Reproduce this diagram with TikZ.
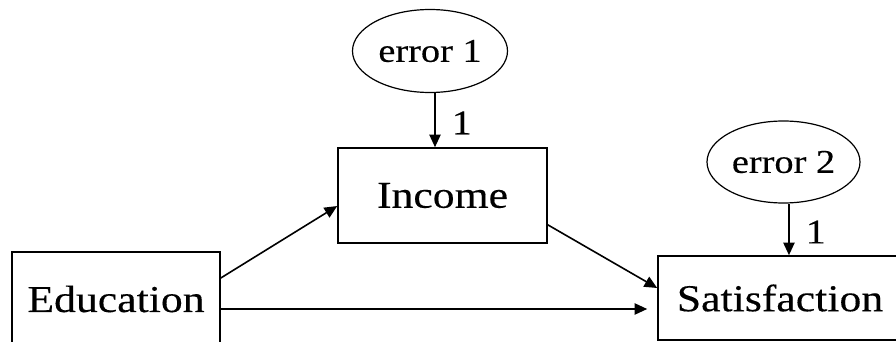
\documentclass[tikz,border=0pt]{standalone}
\usepackage{fontspec}
\setmainfont[FakeStretch=1.15,FakeBold=0.3]{Liberation Serif}
\usetikzlibrary{shapes.geometric,arrows.meta}
\begin{document}
\begin{tikzpicture}[x=0.75pt,y=-0.75pt,
  box/.style={draw, line width=1.2pt, inner sep=0pt, font=\fontsize{28.5}{32}\selectfont},
  err/.style={draw, ellipse, line width=0.9pt, inner sep=0pt, font=\fontsize{25}{30}\selectfont},
  arr/.style={line width=1.2pt, -{Triangle[length=9.5pt,width=8.5pt]}},
  wt/.style={anchor=west, inner sep=0pt, xshift=12pt, font=\fontsize{26}{30}\selectfont}]
\useasboundingbox (0,0) rectangle (896,342);
\begin{scope}
\clip (0,0) rectangle (896,342);
% variables
\node[err, minimum width=116.25pt, minimum height=62.25pt] (err1) at (430,51) {error 1};
\node[box, minimum width=156.75pt, minimum height=71.25pt] (inc) at (442.5,195.5) {Income};
\node[box, minimum width=156pt, minimum height=70.5pt] (edu) at (116,299) {Education};
\node[err, minimum width=114.75pt, minimum height=61.5pt] (err2) at (783.5,162) {error 2};
\node[box, minimum width=183pt, minimum height=63pt] (sat) at (780,298) {Satisfaction};
% paths
\draw[arr] ([xshift=3.75pt]err1.south) -- ([xshift=3.75pt]err1.south |- inc.north)
  node[wt, pos=0.55] (w1) {1};
\draw[arr] ([xshift=4.1pt]err2.south) -- ([xshift=4.1pt]err2.south |- sat.north)
  node[wt, pos=0.55] (w2) {1};
\draw[arr] ([yshift=15.75pt]edu.east) -- ([yshift=-7.9pt]inc.west);
\draw[arr] ([yshift=-22pt]inc.east) -- ([yshift=7.5pt]sat.west);
\draw[arr, shorten >=7.5pt] ([yshift=-7.5pt]edu.east) -- ([yshift=-7.5pt]edu.east -| sat.west);
\end{scope}
\end{tikzpicture}
\end{document}
